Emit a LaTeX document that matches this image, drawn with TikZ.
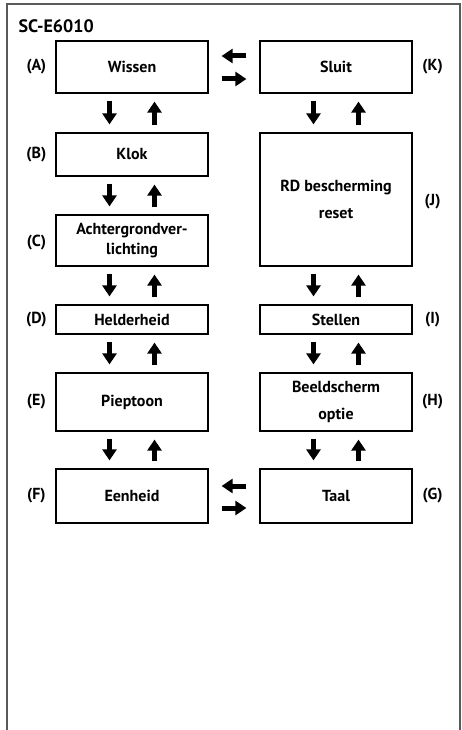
\documentclass[tikz,border=0pt]{standalone}
\usepackage{fontspec}
\setmainfont{PT Sans}
\usetikzlibrary{arrows.meta}
\begin{document}
\begin{tikzpicture}[x=1pt,y=-1pt,
  box/.style={draw,line width=1.2pt,minimum width=152pt,inner sep=0pt,align=center,
    font=\fontsize{16}{20}\selectfont\bfseries},
  wide/.style={font=\fontsize{16}{27}\selectfont\bfseries},
  lbl/.style={inner sep=0pt,font=\fontsize{16}{17}\selectfont\bfseries},
  blk/.style={line width=5pt,-{Triangle[width=14pt,length=11pt]}},
  vd/.style={blk,shorten <=7pt,shorten >=8pt},
  hd/.style={blk,shorten <=13pt,shorten >=13pt}]
\useasboundingbox (0,0) rectangle (461,730);
\fill[white] (0,0) rectangle (461,730);
\draw[black!65,line width=1.5pt] (7,731) -- (7,4) -- (460,4) -- (460,731);
\node[anchor=west,inner sep=0pt,font=\fontsize{18}{20}\selectfont\bfseries] (title) at (18.5,26) {SC-E6010};

\node[box,minimum height=52pt] (A) at (132,67) {Wissen};
\node[box,minimum height=52pt] (K) at (336,67) {Sluit};
\node[box,minimum height=43pt] (B) at (132,154.5) {Klok};
\node[box,wide,minimum height=133pt] (J) at (336,199.5) {RD bescherming\\reset};
\node[box,minimum height=51pt] (C) at (132,240.5) {Achtergrondver-\\lichting};
\node[box,minimum height=29pt] (D) at (132,319.5) {Helderheid};
\node[box,minimum height=29pt] (I) at (336,319.5) {Stellen};
\node[box,minimum height=58pt] (E) at (132,402) {Pieptoon};
\node[box,wide,minimum height=58pt] (H) at (336,402) {Beeldscherm\\optie};
\node[box,minimum height=54pt] (F) at (132,496) {Eenheid};
\node[box,minimum height=54pt] (G) at (336,496) {Taal};

\node[lbl] (lA) at ([xshift=-19pt]A.west) {(A)};
\node[lbl] (lB) at ([xshift=-19pt]B.west) {(B)};
\node[lbl] (lC) at ([xshift=-19pt,yshift=-2pt]C.west) {(C)};
\node[lbl] (lD) at ([xshift=-19pt]D.west) {(D)};
\node[lbl] (lE) at ([xshift=-19pt]E.west) {(E)};
\node[lbl] (lF) at ([xshift=-19pt]F.west) {(F)};
\node[lbl] (lK) at ([xshift=20pt]K.east) {(K)};
\node[lbl] (lJ) at ([xshift=20pt,yshift=-2pt]J.east) {(J)};
\node[lbl] (lI) at ([xshift=20pt]I.east) {(I)};
\node[lbl] (lH) at ([xshift=20pt]H.east) {(H)};
\node[lbl] (lG) at ([xshift=20pt]G.east) {(G)};

\foreach \u/\l in {A/B,B/C,C/D,D/E,E/F,K/J,J/I,I/H,H/G}{
  \draw[vd] ([xshift=-22.5pt]\u.south) -- ([xshift=-22.5pt]\l.north);
  \draw[vd] ([xshift=22.5pt]\l.north) -- ([xshift=22.5pt]\u.south);
}
\draw[hd] ([yshift=11pt]K.west) -- ([yshift=11pt]A.east);
\draw[hd] ([yshift=-12pt]A.east) -- ([yshift=-12pt]K.west);
\draw[hd] ([yshift=10pt]G.west) -- ([yshift=10pt]F.east);
\draw[hd] ([yshift=-12pt]F.east) -- ([yshift=-12pt]G.west);
\end{tikzpicture}
\end{document}
